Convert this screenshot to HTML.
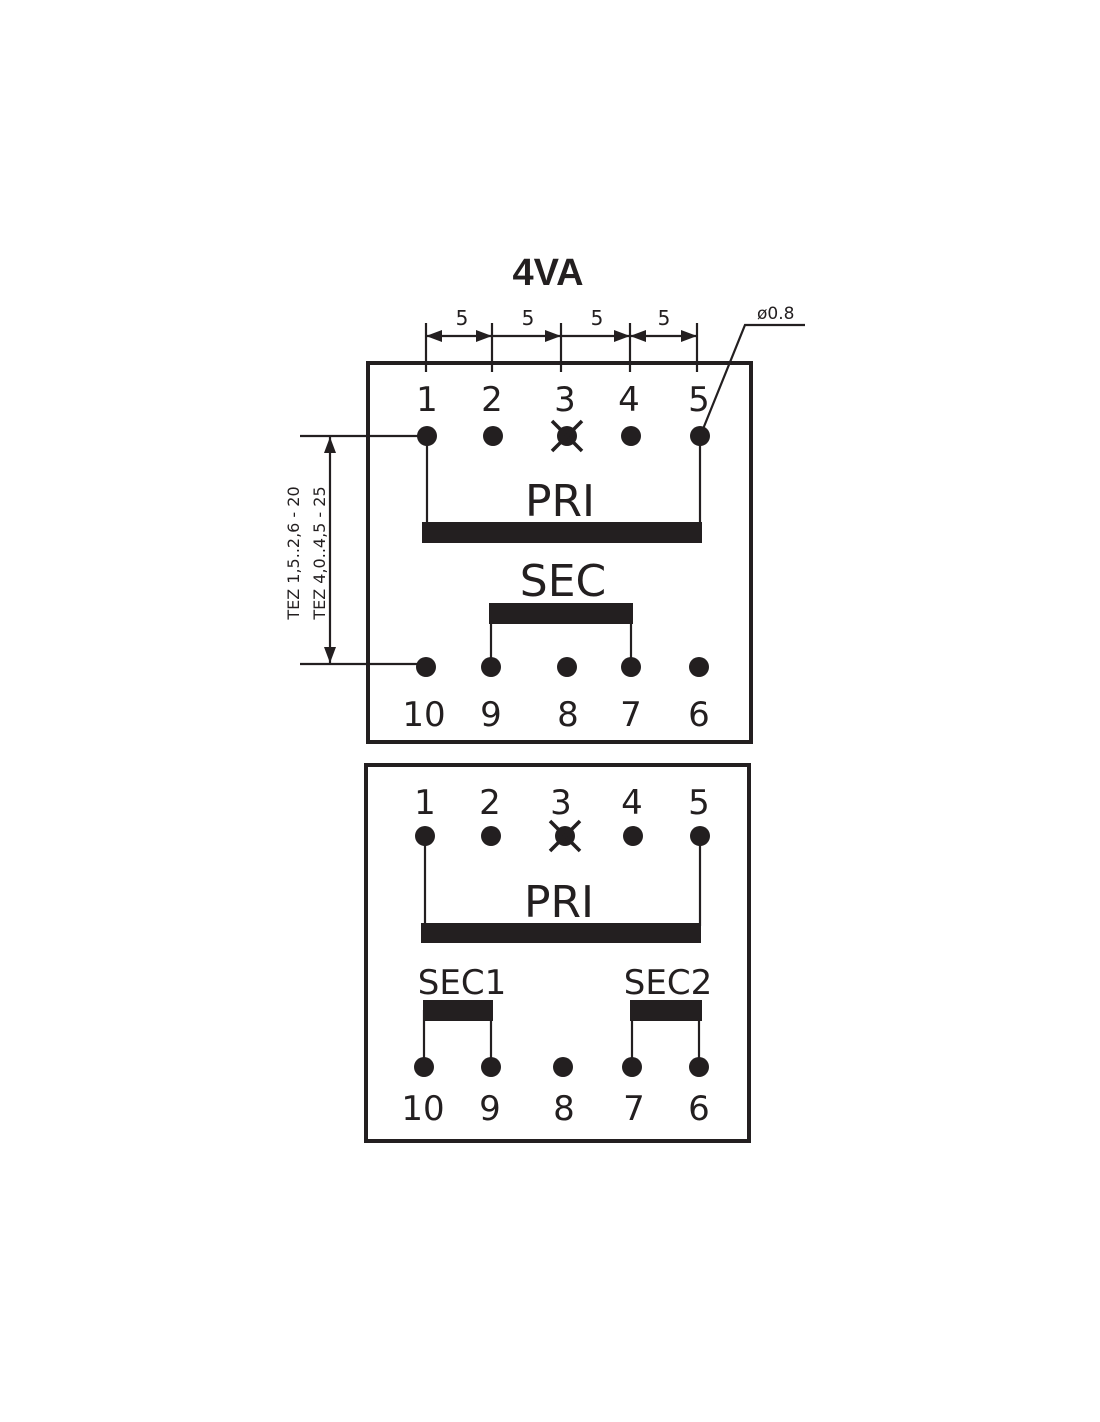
<!DOCTYPE html>
<html><head><style>html,body{margin:0;padding:0;background:#fff}svg{display:block}text{font-family:"DejaVu Sans","Liberation Sans",sans-serif;fill:#231f20}text.t{font-family:"Liberation Sans",sans-serif}</style></head>
<body>
<svg width="1100" height="1422" viewBox="0 0 1100 1422" xmlns="http://www.w3.org/2000/svg">
<defs><marker id="a" viewBox="0 0 16 12" refX="16" refY="6" markerWidth="16" markerHeight="12" orient="auto-start-reverse" markerUnits="userSpaceOnUse"><path d="M0,0 L16,6 L0,12 z" fill="#231f20"/></marker></defs>
<g stroke="#231f20" fill="none">
<text class="t" x="548" y="285" font-size="38" font-weight="bold" text-anchor="middle" stroke="none">4VA</text>
<rect x="368" y="363" width="383" height="379" stroke-width="4"/>
<g stroke-width="2.2">
<line x1="426" y1="323" x2="426" y2="372"/><line x1="492" y1="323" x2="492" y2="372"/><line x1="561" y1="323" x2="561" y2="372"/><line x1="630" y1="323" x2="630" y2="372"/><line x1="697" y1="323" x2="697" y2="372"/>
<line x1="426" y1="336" x2="492" y2="336" marker-start="url(#a)" marker-end="url(#a)"/>
<line x1="492" y1="336" x2="561" y2="336" marker-end="url(#a)"/>
<line x1="561" y1="336" x2="630" y2="336" marker-end="url(#a)"/>
<line x1="630" y1="336" x2="697" y2="336" marker-start="url(#a)" marker-end="url(#a)"/>
<polyline points="701,434 745,325 805,325"/>
<line x1="300" y1="436" x2="420" y2="436"/><line x1="300" y1="664" x2="420" y2="664"/>
<line x1="330" y1="437" x2="330" y2="663" marker-start="url(#a)" marker-end="url(#a)"/>
<polyline points="427,436 427,524"/><polyline points="700,436 700,524"/>
<polyline points="491,667 491,612"/><polyline points="631,667 631,612"/>
<line x1="425" y1="836" x2="425" y2="926"/><line x1="700" y1="836" x2="700" y2="926"/>
<line x1="424" y1="1067" x2="424" y2="1010"/><line x1="491" y1="1067" x2="491" y2="1010"/>
<line x1="632" y1="1067" x2="632" y2="1010"/><line x1="699" y1="1067" x2="699" y2="1010"/>
</g>
<g stroke="none" fill="#231f20">
<text x="462" y="325" font-size="20" text-anchor="middle">5</text><text x="528" y="325" font-size="20" text-anchor="middle">5</text><text x="597" y="325" font-size="20" text-anchor="middle">5</text><text x="664" y="325" font-size="20" text-anchor="middle">5</text>
<text x="757" y="319" font-size="17">ø0.8</text>
<text transform="translate(299,553) rotate(-90)" font-size="16" text-anchor="middle">TEZ 1,5..2,6 - 20</text>
<text transform="translate(325,553) rotate(-90)" font-size="16" text-anchor="middle">TEZ 4,0..4,5 - 25</text>
<g font-size="34" text-anchor="middle">
<text x="427" y="411">1</text><text x="492" y="411">2</text><text x="565" y="411">3</text><text x="629" y="411">4</text><text x="699" y="411">5</text>
<text x="424" y="726">10</text><text x="491" y="726">9</text><text x="568" y="726">8</text><text x="631" y="726">7</text><text x="699" y="726">6</text>
<text x="425" y="814">1</text><text x="490" y="814">2</text><text x="561" y="814">3</text><text x="632" y="814">4</text><text x="699" y="814">5</text>
<text x="423" y="1120">10</text><text x="490" y="1120">9</text><text x="564" y="1120">8</text><text x="634" y="1120">7</text><text x="699" y="1120">6</text>
</g>
<text x="560" y="516" font-size="44" text-anchor="middle">PRI</text>
<text x="563" y="596" font-size="44" text-anchor="middle">SEC</text>
<text x="559" y="917" font-size="44" text-anchor="middle">PRI</text>
<text x="462" y="994" font-size="34" text-anchor="middle">SEC1</text>
<text x="668" y="994" font-size="34" text-anchor="middle">SEC2</text>
<rect x="422" y="522" width="280" height="21"/>
<rect x="489" y="603" width="144" height="21"/>
<rect x="421" y="923" width="280" height="20"/>
<rect x="423" y="1000" width="70" height="21"/>
<rect x="630" y="1000" width="72" height="21"/>
<circle cx="427" cy="436" r="10"/><circle cx="493" cy="436" r="10"/><circle cx="567" cy="436" r="10"/><circle cx="631" cy="436" r="10"/><circle cx="700" cy="436" r="10"/>
<circle cx="426" cy="667" r="10"/><circle cx="491" cy="667" r="10"/><circle cx="567" cy="667" r="10"/><circle cx="631" cy="667" r="10"/><circle cx="699" cy="667" r="10"/>
<circle cx="425" cy="836" r="10"/><circle cx="491" cy="836" r="10"/><circle cx="565" cy="836" r="10"/><circle cx="633" cy="836" r="10"/><circle cx="700" cy="836" r="10"/>
<circle cx="424" cy="1067" r="10"/><circle cx="491" cy="1067" r="10"/><circle cx="563" cy="1067" r="10"/><circle cx="632" cy="1067" r="10"/><circle cx="699" cy="1067" r="10"/>
</g>
<g stroke-width="3.5"><line x1="552" y1="421" x2="582" y2="451"/><line x1="582" y1="421" x2="552" y2="451"/>
<line x1="550" y1="821" x2="580" y2="851"/><line x1="580" y1="821" x2="550" y2="851"/></g>
<rect x="366" y="765" width="383" height="376" stroke-width="4"/>
</g>
</svg>
</body></html>
